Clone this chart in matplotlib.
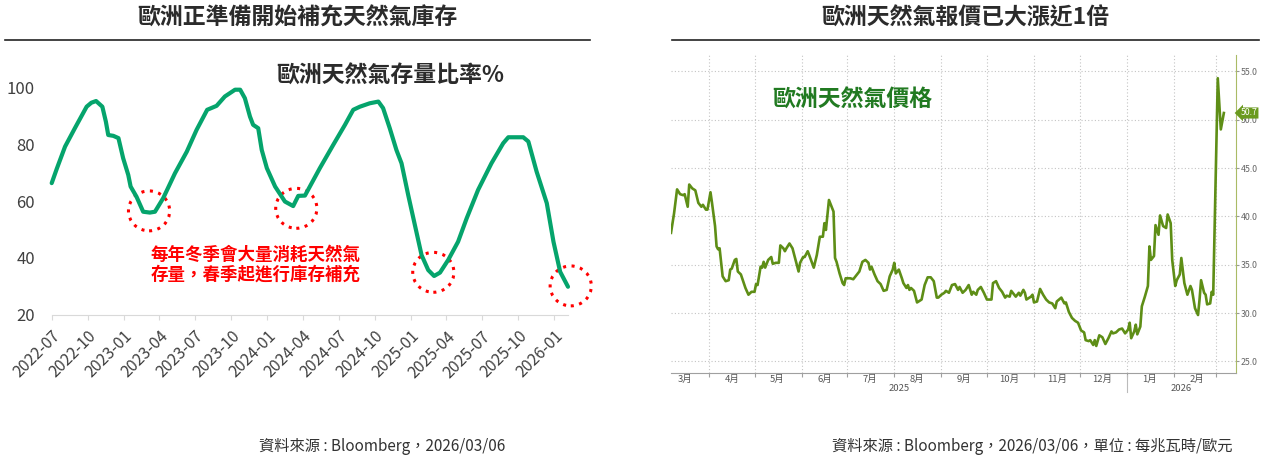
import numpy as np
import pandas as pd
import matplotlib
matplotlib.use('Agg')
import matplotlib.pyplot as plt
import matplotlib.dates as mdates
import matplotlib.transforms as mtransforms
from matplotlib.patches import Ellipse
from matplotlib.lines import Line2D
from matplotlib.ticker import FormatStrFormatter, FuncFormatter

plt.rcParams['font.family'] = ['Noto Sans CJK TC', 'DejaVu Sans']

# ---- left chart: EU gas storage (%)
storage_dates = ['2022-07-01', '2022-07-14', '2022-08-04', '2022-08-29', '2022-09-28', '2022-10-10',
                 '2022-10-22', '2022-11-07', '2022-11-16', '2022-11-22', '2022-12-05', '2022-12-18',
                 '2022-12-30', '2023-01-12', '2023-01-18', '2023-02-02', '2023-02-19', '2023-03-08',
                 '2023-03-21', '2023-04-11', '2023-05-11', '2023-06-10', '2023-07-05', '2023-08-01',
                 '2023-08-25', '2023-09-15', '2023-10-11', '2023-10-24', '2023-11-05', '2023-11-18',
                 '2023-11-26', '2023-12-09', '2023-12-18', '2023-12-31', '2024-01-21', '2024-02-15',
                 '2024-03-07', '2024-03-20', '2024-04-06', '2024-05-14', '2024-06-17', '2024-07-17',
                 '2024-08-07', '2024-08-24', '2024-09-18', '2024-10-10', '2024-10-22', '2024-11-08',
                 '2024-11-25', '2024-12-08', '2024-12-25', '2025-01-11', '2025-01-28', '2025-02-14',
                 '2025-03-01', '2025-03-16', '2025-04-06', '2025-05-01', '2025-05-23', '2025-06-21',
                 '2025-07-25', '2025-08-24', '2025-09-06', '2025-10-14', '2025-10-27', '2025-11-17',
                 '2025-12-13', '2025-12-30', '2026-01-16', '2026-02-05']
storage_pct = [66.4, 71.5, 79.3, 85.8, 93.4, 94.8,
               95.4, 93.4, 88.1, 83.4, 83.1, 82.3,
               75.2, 69.3, 65.2, 61.6, 56.3, 56.0,
               56.3, 61.1, 69.9, 77.5, 85.2, 92.3,
               93.7, 97.0, 99.4, 99.4, 96.4, 89.9,
               87.0, 85.8, 78.1, 71.7, 65.2, 59.9,
               58.3, 61.9, 62.0, 71.7, 79.9, 87.0,
               92.3, 93.4, 94.6, 95.2, 92.9, 85.8,
               78.1, 73.4, 62.2, 51.6, 41.0, 35.7,
               33.6, 34.8, 39.3, 45.7, 54.0, 64.0,
               73.4, 80.5, 82.6, 82.6, 81.1, 70.5,
               59.3, 45.7, 35.1, 29.8]

# red dotted circles around the winter lows
circle_dates = ['2023-03-06', '2024-03-15', '2025-02-27', '2026-02-12']
circle_pct = [56.6, 57.5, 34.9, 30.1]

# ---- right chart: EU gas price (EUR/MWh)
price_dates = ['2025-03-07', '2025-03-09', '2025-03-11', '2025-03-13', '2025-03-15', '2025-03-16',
               '2025-03-18', '2025-03-19', '2025-03-21', '2025-03-23', '2025-03-25', '2025-03-27',
               '2025-03-28', '2025-03-30', '2025-03-31', '2025-04-02', '2025-04-03', '2025-04-05',
               '2025-04-06', '2025-04-07', '2025-04-08', '2025-04-10', '2025-04-12', '2025-04-14',
               '2025-04-15', '2025-04-16', '2025-04-18', '2025-04-19', '2025-04-20', '2025-04-22',
               '2025-04-25', '2025-04-27', '2025-04-29', '2025-05-01', '2025-05-02', '2025-05-03',
               '2025-05-05', '2025-05-06', '2025-05-07', '2025-05-08', '2025-05-10', '2025-05-12',
               '2025-05-13', '2025-05-15', '2025-05-17', '2025-05-18', '2025-05-20', '2025-05-21',
               '2025-05-22', '2025-05-24', '2025-05-26', '2025-05-28', '2025-05-30', '2025-05-31',
               '2025-06-02', '2025-06-03', '2025-06-05', '2025-06-06', '2025-06-09', '2025-06-11',
               '2025-06-13', '2025-06-15', '2025-06-16', '2025-06-17', '2025-06-19', '2025-06-21',
               '2025-06-22', '2025-06-23', '2025-06-24', '2025-06-26', '2025-06-28', '2025-06-29',
               '2025-06-30', '2025-07-03', '2025-07-05', '2025-07-08', '2025-07-09', '2025-07-11',
               '2025-07-13', '2025-07-15', '2025-07-16', '2025-07-17', '2025-07-19', '2025-07-21',
               '2025-07-23', '2025-07-25', '2025-07-27', '2025-07-29', '2025-07-31', '2025-08-01',
               '2025-08-02', '2025-08-04', '2025-08-06', '2025-08-07', '2025-08-09', '2025-08-10',
               '2025-08-11', '2025-08-12', '2025-08-14', '2025-08-16', '2025-08-17', '2025-08-19',
               '2025-08-21', '2025-08-23', '2025-08-25', '2025-08-27', '2025-08-29', '2025-08-30',
               '2025-09-01', '2025-09-03', '2025-09-04', '2025-09-06', '2025-09-08', '2025-09-10',
               '2025-09-12', '2025-09-13', '2025-09-15', '2025-09-17', '2025-09-19', '2025-09-21',
               '2025-09-22', '2025-09-24', '2025-09-25', '2025-09-27', '2025-09-29', '2025-10-01',
               '2025-10-04', '2025-10-05', '2025-10-07', '2025-10-09', '2025-10-11', '2025-10-13',
               '2025-10-14', '2025-10-16', '2025-10-17', '2025-10-19', '2025-10-20', '2025-10-22',
               '2025-10-23', '2025-10-25', '2025-10-26', '2025-10-27', '2025-10-30', '2025-10-31',
               '2025-11-01', '2025-11-03', '2025-11-05', '2025-11-07', '2025-11-09', '2025-11-11',
               '2025-11-13', '2025-11-15', '2025-11-16', '2025-11-19', '2025-11-21', '2025-11-22',
               '2025-11-24', '2025-11-26', '2025-11-28', '2025-11-30', '2025-12-02', '2025-12-04',
               '2025-12-05', '2025-12-07', '2025-12-08', '2025-12-10', '2025-12-11', '2025-12-12',
               '2025-12-14', '2025-12-16', '2025-12-18', '2025-12-20', '2025-12-22', '2025-12-23',
               '2025-12-25', '2025-12-27', '2025-12-29', '2025-12-31', '2026-01-02', '2026-01-03',
               '2026-01-04', '2026-01-06', '2026-01-07', '2026-01-08', '2026-01-10', '2026-01-11',
               '2026-01-13', '2026-01-15', '2026-01-16', '2026-01-17', '2026-01-19', '2026-01-20',
               '2026-01-22', '2026-01-23', '2026-01-25', '2026-01-27', '2026-01-28', '2026-01-30',
               '2026-01-31', '2026-02-02', '2026-02-03', '2026-02-05', '2026-02-06', '2026-02-08',
               '2026-02-10', '2026-02-12', '2026-02-13', '2026-02-15', '2026-02-17', '2026-02-18',
               '2026-02-19', '2026-02-21', '2026-02-22', '2026-02-23', '2026-02-25', '2026-02-26',
               '2026-02-27', '2026-03-02', '2026-03-04', '2026-03-06']
price_vals = [38.3, 40.3, 42.8, 42.3, 42.2, 42.3,
              41.0, 43.3, 42.9, 42.7, 41.4, 41.0,
              41.2, 40.7, 40.7, 42.5, 41.4, 39.0,
              36.9, 36.6, 36.7, 33.8, 33.3, 33.4,
              34.5, 34.6, 35.5, 35.6, 34.3, 34.0,
              32.6, 31.9, 32.2, 32.2, 33.0, 32.9,
              34.8, 34.7, 35.3, 34.7, 35.5, 35.8,
              35.1, 35.2, 35.2, 37.0, 36.7, 36.4,
              36.7, 37.2, 36.7, 35.5, 34.3, 35.2,
              35.8, 35.8, 36.4, 36.0, 34.7, 36.0,
              37.9, 37.9, 39.3, 38.6, 41.7, 40.9,
              40.5, 35.7, 35.3, 34.1, 33.1, 32.9,
              33.6, 33.6, 33.5, 34.1, 34.3, 35.3,
              35.5, 35.2, 34.5, 34.8, 34.0, 33.3,
              33.0, 32.3, 32.4, 33.8, 34.5, 35.2,
              34.1, 34.5, 33.6, 33.1, 32.6, 32.9,
              32.4, 32.6, 32.3, 31.1, 31.2, 31.4,
              32.9, 33.7, 33.7, 33.3, 31.6, 31.6,
              31.9, 32.1, 32.3, 32.1, 32.9, 33.0,
              32.4, 32.7, 32.1, 32.4, 32.9, 31.9,
              32.2, 31.9, 32.4, 32.7, 32.1, 31.4,
              31.4, 33.1, 33.3, 32.6, 32.2, 31.6,
              31.8, 31.7, 32.3, 31.9, 31.7, 32.1,
              31.8, 32.4, 32.1, 31.4, 31.7, 31.9,
              31.1, 31.2, 32.5, 31.9, 31.4, 31.1,
              31.0, 30.5, 31.2, 31.6, 31.0, 31.1,
              30.1, 29.5, 29.2, 29.0, 28.2, 28.0,
              27.2, 27.1, 27.2, 26.7, 27.2, 26.6,
              27.7, 27.5, 26.8, 27.4, 28.1, 27.9,
              28.0, 28.3, 28.4, 27.9, 28.3, 29.0,
              27.4, 28.1, 28.8, 27.8, 28.6, 30.7,
              31.7, 32.8, 36.9, 35.5, 35.9, 39.1,
              38.1, 40.1, 39.0, 38.8, 40.2, 39.3,
              35.5, 32.8, 33.4, 34.0, 35.7, 33.1,
              31.9, 32.8, 32.4, 30.5, 29.8, 31.4,
              33.4, 32.1, 31.9, 30.9, 31.0, 32.2,
              31.9, 54.3, 49.0, 50.7]
last_price = 50.7

left_title = '歐洲正準備開始補充天然氣庫存'
right_title = '歐洲天然氣報價已大漲近1倍'
left_label = '歐洲天然氣存量比率%'
right_label = '歐洲天然氣價格'
note_text = '每年冬季會大量消耗天然氣\n存量，春季起進行庫存補充'
left_source = '資料來源 : Bloomberg，2026/03/06'
right_source = '資料來源 : Bloomberg，2026/03/06，單位 : 每兆瓦時/歐元'

W, H = 1272, 457
fig = plt.figure(figsize=(W / 100, H / 100), dpi=100)


def fx(px):
    return px / W


def fy(py):
    return 1 - py / H


# ---------------- left chart
ax1 = fig.add_axes([fx(51.7), fy(314.5), fx(568) - fx(51.7), (314.5 - 88) / H])
ax1.plot(pd.to_datetime(storage_dates), storage_pct, color='#05a46c', lw=3,
         solid_joinstyle='round', solid_capstyle='round', clip_on=False)
ax1.set_ylim(20, 100)
ax1.set_yticks([20, 40, 60, 80, 100])
ax1.set_xlim(pd.Timestamp('2022-07-01'), pd.Timestamp('2026-02-05'))
ax1.xaxis.set_major_locator(mdates.MonthLocator(bymonth=[1, 4, 7, 10]))
ax1.xaxis.set_major_formatter(mdates.DateFormatter('%Y-%m'))
for s in ['top', 'right', 'left']:
    ax1.spines[s].set_visible(False)
ax1.spines['bottom'].set_color('#d9d9d9')
ax1.tick_params(axis='x', length=3.6, color='#d9d9d9', labelsize=11.5, labelcolor='#404040', pad=6)
ax1.tick_params(axis='y', length=0, labelsize=12, labelcolor='#404040', pad=12)
plt.setp(ax1.get_xticklabels(), rotation=45, ha='right', rotation_mode='anchor')

for d, v in zip(circle_dates, circle_pct):
    e = Ellipse((mdates.date2num(pd.Timestamp(d)), v), width=105, height=14.1, fill=False,
                ec='#ff0000', lw=2.2, ls=(0, (1, 1.8)), clip_on=False)
    ax1.add_patch(e)

fig.text(fx(276.7), fy(76.7), left_label, ha='left', va='center', fontsize=16.5, color='#2b2b2b',
         weight='bold')
fig.text(fx(151), fy(265), note_text, ha='left', va='center', fontsize=12.6, color='#ff0000',
         weight='bold', linespacing=1.15)

# ---------------- right chart
ax2 = fig.add_axes([fx(671), fy(373), fx(1236) - fx(671), (373 - 55) / H])
ax2.plot(pd.to_datetime(price_dates), price_vals, color='#5e8e16', lw=1.9, solid_joinstyle='round')
ax2.set_ylim(23.8, 56.7)
x0, x1 = pd.Timestamp('2025-03-07'), pd.Timestamp('2026-03-14')
ax2.set_xlim(x0, x1)
ax2.yaxis.tick_right()
ax2.set_yticks(np.arange(25, 56, 5))
ax2.yaxis.set_major_formatter(FormatStrFormatter('%.1f'))
ax2.xaxis.set_major_locator(mdates.MonthLocator())
ax2.xaxis.set_major_formatter(FuncFormatter(lambda x, p: ''))
ax2.xaxis.set_minor_locator(mdates.MonthLocator(bymonthday=16))
ax2.xaxis.set_minor_formatter(FuncFormatter(lambda x, p: f'{mdates.num2date(x).month}月'))
ax2.grid(True, which='major', ls=(0, (1, 2)), color='#c4c4c4', lw=0.8)
ax2.spines['top'].set_visible(False)
ax2.spines['left'].set_visible(False)
ax2.spines['right'].set_color('#aabb66')
ax2.spines['bottom'].set_color('#a0a0a0')
ax2.tick_params(axis='y', length=2, color='#999999', labelsize=6.3, labelcolor='#666666', pad=1.5)
ax2.tick_params(axis='x', which='major', length=3, color='#a0a0a0')
ax2.tick_params(axis='x', which='minor', length=0, labelsize=6.8, labelcolor='#555555', pad=1.5)

tr = mtransforms.blended_transform_factory(ax2.transData, ax2.transAxes)
jan1 = pd.Timestamp('2026-01-01')
yr_2025 = x0 + (jan1 - x0) / 2
yr_2026 = jan1 + (x1 - jan1) / 2
ax2.text(yr_2025, -0.05, '2025', transform=tr, ha='center', va='center', fontsize=6.8, color='#555555')
ax2.text(yr_2026, -0.05, '2026', transform=tr, ha='center', va='center', fontsize=6.8, color='#555555')
ax2.add_line(Line2D([jan1, jan1], [-0.006, -0.06], transform=tr, color='#bbbbbb', lw=0.8, clip_on=False))

tr2 = mtransforms.blended_transform_factory(ax2.transAxes, ax2.transData)
ax2.text(1.008, last_price, f'{last_price:.1f}', transform=tr2, ha='left', va='center', fontsize=6.3,
         color='white', bbox=dict(boxstyle='larrow,pad=0.12', fc='#6a9a1f', ec='none'))

fig.text(fx(772.7), fy(100), right_label, ha='left', va='center', fontsize=16.5, weight='bold',
         color='#217a21')

# ---------------- titles, rules, sources
fig.text(fx(297.7), fy(18), left_title, ha='center', va='center', fontsize=16.5, color='#2b2b2b',
         weight='bold')
fig.text(fx(965), fy(18), right_title, ha='center', va='center', fontsize=16.5, color='#2b2b2b',
         weight='bold')
fig.add_artist(Line2D([fx(5), fx(590)], [fy(40), fy(40)], color='#222222', lw=1.2))
fig.add_artist(Line2D([fx(672), fx(1259)], [fy(40), fy(40)], color='#222222', lw=1.2))
fig.text(fx(505), fy(446), left_source, ha='right', va='center', fontsize=11, color='#333333')
fig.text(fx(1233), fy(446), right_source, ha='right', va='center', fontsize=11, color='#333333')

fig.savefig('out.png', dpi=100)
